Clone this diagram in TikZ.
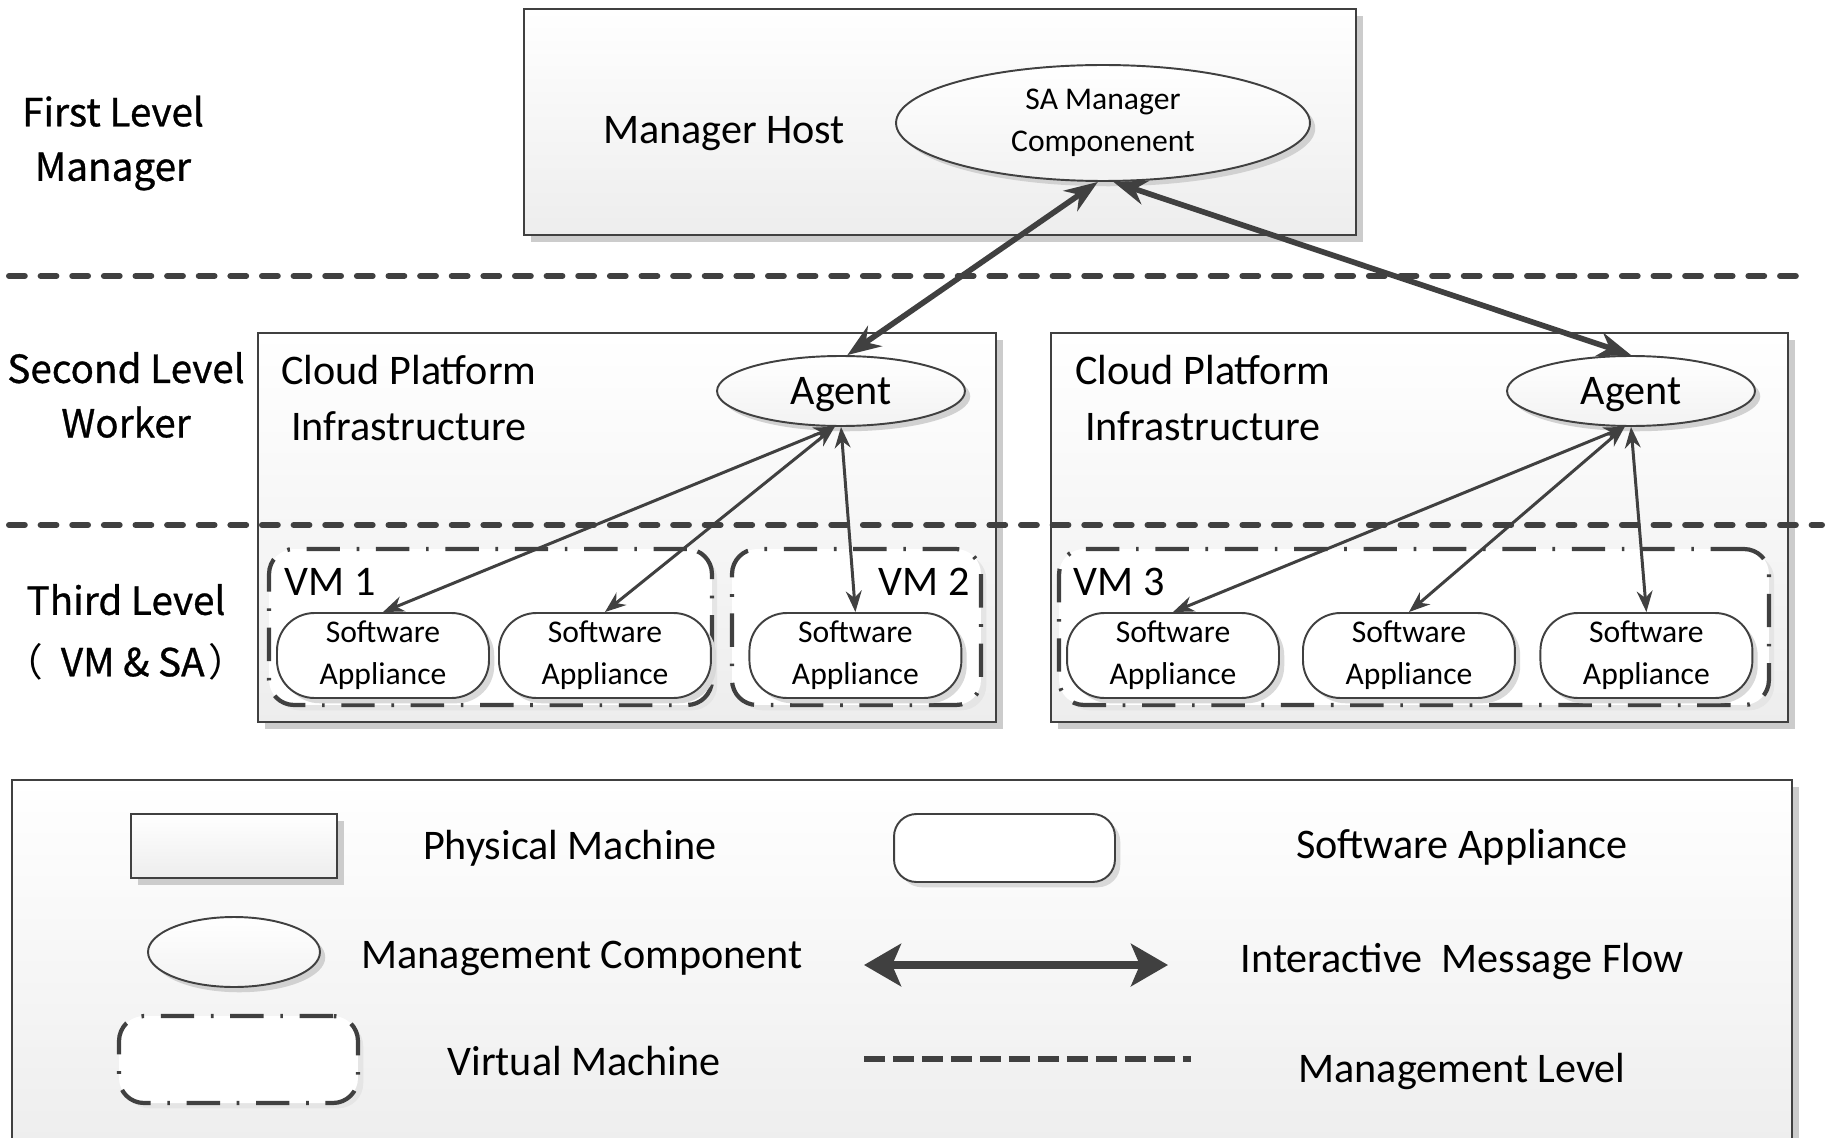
\documentclass[tikz,border=0pt]{standalone}
\usepackage{fontspec}
\setmainfont{Carlito}
\newfontfamily\cjkfont[FakeBold=0.8]{Noto Sans CJK SC}
\newfontfamily\cjkparen{Noto Sans CJK SC}
\usetikzlibrary{arrows.meta,shapes.geometric,shadows,positioning}

\definecolor{linegray}{HTML}{404040}

\begin{document}
\begin{tikzpicture}[x=0.02cm, y=-0.02cm, node distance=4.44cm]
            \tikzset{
                bigfont/.style = {font=\fontsize{24}{31.8}\selectfont},
                smallfont/.style = {font=\fontsize{18}{24}\selectfont},
                levelfont/.style = {font=\cjkfont\fontsize{22}{31}\selectfont, align=center},
                pmbox/.style = {rectangle, draw=linegray, line width=1.1pt, top color=white, bottom color=black!7, inner sep=0pt,
                    drop shadow={shadow xshift=4pt, shadow yshift=-4pt, fill=black!20, opacity=1}},
                mgmt/.style = {ellipse, draw=linegray, line width=1.1pt, top color=white, bottom color=black!5, inner sep=0pt, align=center,
                    drop shadow={shadow xshift=3pt, shadow yshift=-3pt, fill=black!18, opacity=1}},
                appliance/.style = {rectangle, rounded corners=0.75cm, draw=linegray, line width=1.1pt, fill=white, smallfont, align=center,
                    minimum width=4.24cm, minimum height=1.7cm, inner sep=0pt,
                    drop shadow={shadow xshift=3pt, shadow yshift=-3pt, fill=black!15, opacity=1}},
                vmbox/.style = {rectangle, rounded corners=0.5cm, draw=linegray, line width=2.4pt, fill=white, inner sep=0pt,
                    dash pattern=on 19pt off 9.5pt on 1.5pt off 9.5pt,
                    drop shadow={shadow xshift=3pt, shadow yshift=-3pt, fill=black!10, opacity=1}},
                levelline/.style = {draw=linegray, line width=3.4pt, line cap=round, dash pattern=on 9pt off 9pt},
                bigarrow/.style = {draw=linegray, line width=3.2pt, {Stealth[length=19pt,width=14pt]}-{Stealth[length=19pt,width=14pt]}},
                arrow/.style = {draw=linegray, line width=1.7pt, {Stealth[length=12pt,width=9pt]}-{Stealth[length=12pt,width=9pt]}},
                keyarrow/.style = {draw=linegray, line width=4.7pt, {Stealth[length=21pt,width=24pt,inset=5pt]}-{Stealth[length=21pt,width=24pt,inset=5pt]}},
                keylevel/.style = {draw=linegray, line width=3.8pt, dash pattern=on 12pt off 4.5pt}
            }
            \useasboundingbox (0,0) rectangle (1831,1138);
            \clip (0,0) rectangle (1831,1138);

            % legend frame
            \node (legend) [pmbox, minimum width=35.6cm, minimum height=7.62cm] at (902,970) {};

            % first level
            \node (host) [pmbox, minimum width=16.64cm, minimum height=4.52cm] at (940,122) {};
            \node (hostlabel) [bigfont] at (724,134) {Manager Host};
            \node (samgr) [mgmt, smallfont, minimum width=8.28cm, minimum height=2.32cm] at (1103,123) {SA Manager\\Componenent};

            % second level
            \node (cloudL) [pmbox, minimum width=14.76cm, minimum height=7.78cm] at (627,527.5) {};
            \node (cloudR) [pmbox, minimum width=14.74cm, minimum height=7.78cm] at (1419.5,527.5) {};
            \node (cloudLlabel) [bigfont, align=center] at (409,398) {Cloud Platform\\Infrastructure};
            \node (cloudRlabel) [bigfont, align=center] at (1203,398) {Cloud Platform\\Infrastructure};

            % third level
            \node (vm1) [vmbox, minimum width=8.86cm, minimum height=3.12cm] at (490.5,627) {};
            \node (vm2) [vmbox, minimum width=4.98cm, minimum height=3.12cm] at (856.5,627) {};
            \node (vm3) [vmbox, minimum width=14.2cm, minimum height=3.12cm] at (1414,627) {};
            \node (vm1label) [bigfont] at (330,582) {VM 1};
            \node (vm2label) [bigfont] at (924,582) {VM 2};
            \node (vm3label) [bigfont] at (1119,582) {VM 3};

            \node (sa1) [appliance] at (383,655.5) {Software\\Appliance};
            \node (sa2) [appliance, right of=sa1] {Software\\Appliance};
            \node (sa3) [appliance, right of=sa2, xshift=0.57cm] {Software\\Appliance};
            \node (sa4) [appliance] at (1173,655.5) {Software\\Appliance};
            \node (sa5) [appliance, right of=sa4, xshift=0.28cm] {Software\\Appliance};
            \node (sa6) [appliance, right of=sa5, xshift=0.31cm] {Software\\Appliance};

            \node (agent1) [mgmt, bigfont, text depth=0pt, minimum width=4.96cm, minimum height=1.4cm] at (841,391) {Agent};
            \node (agent2) [mgmt, bigfont, text depth=0pt, minimum width=4.96cm, minimum height=1.4cm] at (1631,391) {Agent};

            % level captions
            \node (lvl1) [levelfont] at (113,143) {First Level\\Manager};
            \node (lvl2) [levelfont] at (126,395) {Second Level\\Worker};
            \node (lvl3) [levelfont] at (126,632) {Third Level\\[4pt]{\cjkparen（}\hspace{0.45em}VM \& SA\hspace{0.1em}{\cjkparen）}};

            % level borders
            \coordinate (lvl1w) at (9,276);
            \coordinate (lvl1e) at (1810,276);
            \coordinate (lvl2w) at (9,525);
            \coordinate (lvl2e) at (1822,525);
            \draw [levelline] (lvl1w) -- (lvl1e);
            \draw [levelline] (lvl2w) -- (lvl2e);

            % message flows
            \draw [bigarrow] (agent1.80) -- (samgr.-95);
            \draw [bigarrow] (samgr.-80) -- (agent2.north);
            \foreach \sa in {sa1,sa2}
                \draw [arrow] (agent1.-100) -- (\sa.north);
            \draw [arrow] (agent1.south) -- (sa3.north);
            \foreach \sa in {sa4,sa5}
                \draw [arrow] (agent2.-100) -- (\sa.north);
            \draw [arrow] (agent2.south) -- (sa6.north);

            % legend entries
            \node (keypm) [pmbox, minimum width=4.12cm, minimum height=1.28cm] at (234,846) {};
            \node (keypmlabel) [bigfont] at (570,848) {Physical Machine};
            \node (keysa) [appliance, rounded corners=0.45cm, minimum width=4.42cm, minimum height=1.36cm] at (1004.5,848) {};
            \node (keysalabel) [bigfont] at (1462,847) {Software Appliance};
            \node (keymc) [mgmt, minimum width=3.44cm, minimum height=1.4cm] at (234,952) {};
            \node (keymclabel) [bigfont] at (582,958) {Management Component};
            \coordinate (keyflowl) at (864,965);
            \coordinate (keyflowr) at (1168,965);
            \draw [keyarrow] (keyflowl) -- (keyflowr);
            \node (keyflowlabel) [bigfont] at (1462,961) {Interactive\ \ Message Flow};
            \node (keyvm) [vmbox, minimum width=4.78cm, minimum height=1.74cm] at (238.5,1059.5) {};
            \node (keyvmlabel) [bigfont] at (584,1061) {Virtual Machine};
            \coordinate (keylvll) at (864,1059);
            \coordinate (keylvlr) at (1191,1059);
            \draw [keylevel] (keylvll) -- (keylvlr);
            \node (keylvllabel) [bigfont] at (1462,1071) {Management Level};
        \end{tikzpicture}
\end{document}
